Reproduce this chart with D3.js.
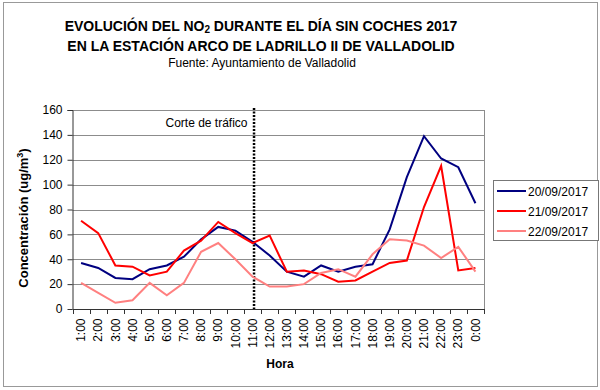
<!DOCTYPE html>
<html>
<head>
<meta charset="utf-8">
<script src="https://cdn.jsdelivr.net/npm/d3@7"></script>
<style>
  body { margin: 0; background: #fff; }
  text { font-family: "Liberation Sans", Arial, sans-serif; }
</style>
</head>
<body>
<svg id="chart" width="600" height="390"></svg>
<script>
const horas = ["1:00","2:00","3:00","4:00","5:00","6:00","7:00","8:00","9:00","10:00","11:00","12:00",
  "13:00","14:00","15:00","16:00","17:00","18:00","19:00","20:00","21:00","22:00","23:00","0:00"];

const dia20 = [37, 33, 25, 24, 32, 35, 42, 56, 66, 63, 54, 43, 30, 26, 35, 30, 34, 36, 64, 106, 139, 121, 114, 85];
const dia21 = [71, 61, 35, 34, 27, 30, 47, 55, 70, 61, 53, 59, 30, 31, 28, 22, 23, 30, 37, 39, 82, 115, 31, 33];
const dia22 = [21, 13, 5, 7, 21, 11, 21, 46, 53, 40, 26, 18, 18, 20, 29, 32, 26, 44, 56, 55, 51, 41, 50, 30];

const seriesNames = ["20/09/2017", "21/09/2017", "22/09/2017"];
const seriesColors = ["#000080", "#ff0000", "#ff8080"];
const yTicks = [0, 20, 40, 60, 80, 100, 120, 140, 160];
const corteHora = "11:00";

const svg = d3.select("#chart");
const margin = { top: 110, right: 116, bottom: 81, left: 72.5 };
const width = 600, height = 390;

// marco exterior
svg.append("rect")
  .attr("x", 3.5).attr("y", 2.5)
  .attr("width", 594).attr("height", 384)
  .attr("fill", "#fff")
  .attr("stroke", "#999")
  .attr("stroke-width", 1);

const x = d3.scaleBand()
  .domain(horas)
  .range([margin.left, width - margin.right]);

const y = d3.scaleLinear()
  .domain([0, 160])
  .range([height - margin.bottom, margin.top]);

const cx = (h) => x(h) + x.bandwidth() / 2;

// rejilla
svg.append("g")
  .selectAll("line")
  .data(yTicks.slice(1))
  .enter()
  .append("line")
  .attr("x1", margin.left)
  .attr("x2", width - margin.right)
  .attr("y1", (d) => Math.round(y(d)) + 0.5)
  .attr("y2", (d) => Math.round(y(d)) + 0.5)
  .attr("stroke", "#8c8c8c")
  .attr("stroke-width", 1);

// borde derecho del área
svg.append("line")
  .attr("x1", width - margin.right + 0.5)
  .attr("x2", width - margin.right + 0.5)
  .attr("y1", margin.top)
  .attr("y2", height - margin.bottom)
  .attr("stroke", "#8c8c8c");

// ejes
const yAxis = svg.append("g")
  .attr("transform", `translate(${margin.left},0)`)
  .call(d3.axisLeft(y).tickValues(yTicks).tickSize(5).tickPadding(5));

const xAxis = svg.append("g")
  .attr("transform", `translate(0,${height - margin.bottom + 0.5})`)
  .call(d3.axisBottom(x).tickSize(0).tickPadding(0));

xAxis.select(".domain").remove();
svg.append("line")
  .attr("x1", margin.left).attr("x2", width - margin.right)
  .attr("y1", height - margin.bottom + 0.5).attr("y2", height - margin.bottom + 0.5)
  .attr("stroke", "#333");

// marcas entre categorías
svg.append("g")
  .selectAll("line")
  .data(horas.concat(["fin"]))
  .enter()
  .append("line")
  .attr("x1", (d, i) => Math.round(margin.left + i * x.step()) + 0.5)
  .attr("x2", (d, i) => Math.round(margin.left + i * x.step()) + 0.5)
  .attr("y1", height - margin.bottom)
  .attr("y2", height - margin.bottom + 5)
  .attr("stroke", "#333");

yAxis.select(".domain").attr("stroke", "#333").attr("d", `M-5,${margin.top + 0.5}H0.5V${height - margin.bottom + 0.5}`);
yAxis.selectAll(".tick line").attr("stroke", "#333");
yAxis.selectAll("text").attr("font-size", 12).attr("fill", "#000").style("font-family", "Liberation Sans, Arial");

xAxis.selectAll("text")
  .attr("font-size", 12)
  .attr("fill", "#000")
  .style("font-family", "Liberation Sans, Arial")
  .attr("transform", "rotate(-90)")
  .attr("text-anchor", "end")
  .attr("x", -9)
  .attr("y", 0)
  .attr("dy", "0.35em");

// línea de corte de tráfico
svg.append("line")
  .attr("x1", cx(corteHora) + 1.5)
  .attr("x2", cx(corteHora) + 1.5)
  .attr("y1", margin.top - 2)
  .attr("y2", height - margin.bottom)
  .attr("stroke", "#000")
  .attr("stroke-width", 2.5)
  .attr("stroke-dasharray", "2,1.5");

svg.append("text")
  .attr("x", cx(corteHora) - 5)
  .attr("y", 127)
  .attr("text-anchor", "end")
  .attr("font-size", 12)
  .text("Corte de tráfico");

// series
const data = [dia20, dia21, dia22];
const line = d3.line()
  .x((d, i) => cx(horas[i]))
  .y((d) => y(d));

svg.append("g")
  .selectAll("path")
  .data(data)
  .enter()
  .append("path")
  .attr("fill", "none")
  .attr("stroke", (d, i) => seriesColors[i])
  .attr("stroke-width", 2)
  .attr("stroke-linejoin", "miter")
  .attr("d", line);

// leyenda
const legend = svg.append("g");
legend.append("rect")
  .attr("x", 493.5).attr("y", 180.5)
  .attr("width", 105).attr("height", 60)
  .attr("fill", "#fff")
  .attr("stroke", "#777");

seriesNames.forEach((name, i) => {
  const ly = 191 + i * 20;
  legend.append("line")
    .attr("x1", 497).attr("x2", 526)
    .attr("y1", ly).attr("y2", ly)
    .attr("stroke", seriesColors[i])
    .attr("stroke-width", 2);
  legend.append("text")
    .attr("x", 528).attr("y", ly + 4.5)
    .attr("font-size", 12)
    .text(name);
});

// títulos
const tcx = 261;
const t1 = svg.append("text")
  .attr("x", tcx).attr("y", 31)
  .attr("text-anchor", "middle")
  .attr("font-size", 14)
  .attr("font-weight", "bold");
t1.append("tspan").text("EVOLUCIÓN DEL NO");
t1.append("tspan").attr("font-size", 10).attr("dy", 2).text("2");
t1.append("tspan").attr("dy", -2).text(" DURANTE EL DÍA SIN COCHES 2017");

svg.append("text")
  .attr("x", tcx).attr("y", 51)
  .attr("text-anchor", "middle")
  .attr("font-size", 14)
  .attr("font-weight", "bold")
  .text("EN LA ESTACIÓN ARCO DE LADRILLO II DE VALLADOLID");

svg.append("text")
  .attr("x", tcx + 1).attr("y", 67)
  .attr("text-anchor", "middle")
  .attr("font-size", 12)
  .text("Fuente: Ayuntamiento de Valladolid");

// etiquetas de ejes
svg.append("text")
  .attr("x", 280)
  .attr("y", 368)
  .attr("text-anchor", "middle")
  .attr("font-size", 12)
  .attr("font-weight", "bold")
  .text("Hora");

const yl = svg.append("text")
  .attr("transform", "translate(28,218) rotate(-90)")
  .attr("text-anchor", "middle")
  .attr("font-size", 13)
  .attr("font-weight", "bold");
yl.append("tspan").text("Concentración (ug/m");
yl.append("tspan").attr("font-size", 9).attr("dy", -5).text("3");
yl.append("tspan").attr("dy", 5).text(")");
</script>
</body>
</html>
